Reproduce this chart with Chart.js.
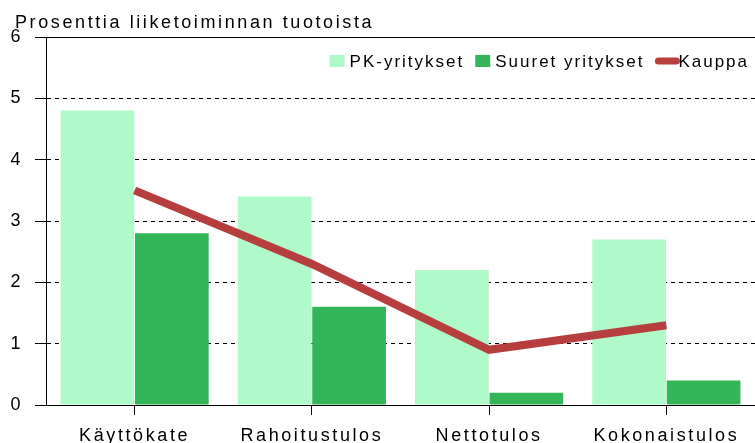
<!DOCTYPE html>
<html>
<head>
<meta charset="utf-8">
<script src="https://cdn.jsdelivr.net/npm/chart.js@4.4.1/dist/chart.umd.min.js"></script>
<style>
    html, body {
        margin: 0;
        padding: 0;
        background: #ffffff;
    }
    #wrap {
        width: 755px;
        height: 443px;
        position: relative;
    }
</style>
</head>
<body>
<div id="wrap"><canvas id="chart"></canvas></div>
<script>
const categories = ['Käyttökate', 'Rahoitustulos', 'Nettotulos', 'Kokonaistulos'];
const pkValues = [4.8, 3.4, 2.2, 2.7];
const suuretValues = [2.8, 1.6, 0.2, 0.4];
const kauppaValues = [3.5, 2.3, 0.9, 1.3];
const yTicks = [0, 1, 2, 3, 4, 5, 6];
const titleText = 'Prosenttia liiketoiminnan tuotoista';

const fontFamily = "'Liberation Sans', Arial, sans-serif";
const axisSpacing = '2.6px';

// the original raster font is spaced out, canvas letterSpacing gets close
const spacingPlugin = {
    id: 'spacing',
    beforeUpdate(chart) {
        chart.ctx.letterSpacing = axisSpacing;
    },
    beforeDraw(chart) {
        chart.ctx.letterSpacing = axisSpacing;
    }
};

// title at the top left, above the chart area
const titlePlugin = {
    id: 'leftTitle',
    afterDraw(chart) {
        const c = chart.ctx;
        c.save();
        c.letterSpacing = '2.6px';
        c.font = '18px ' + fontFamily;
        c.fillStyle = '#000000';
        c.textBaseline = 'alphabetic';
        c.textAlign = 'left';
        c.fillText(titleText, 15, 28);
        c.restore();
    }
};

// legend inside the chart area, right aligned under the top line
const legendPlugin = {
    id: 'innerLegend',
    afterDraw(chart) {
        const c = chart.ctx;
        const area = chart.chartArea;
        const items = chart.data.datasets.map(ds => ({
            text: ds.label,
            color: ds.type === 'line' ? ds.borderColor : ds.backgroundColor,
            isLine: ds.type === 'line'
        }));
        c.save();
        c.letterSpacing = '2px';
        c.font = '17px ' + fontFamily;
        c.textBaseline = 'alphabetic';
        c.textAlign = 'left';

        const boxW = 15;
        const lineW = 24;
        const gapText = 5;
        const gapItem = 11;
        let widths = items.map(it => (it.isLine ? lineW - 1 : boxW + gapText) + c.measureText(it.text).width);
        let total = widths.reduce((a, b) => a + b, 0) + gapItem * (items.length - 1);
        let x = area.right - 6 - total;
        const baseline = area.top + 30;
        const mid = baseline - 6;

        items.forEach((it, i) => {
            c.fillStyle = it.color;
            if (it.isLine) {
                c.strokeStyle = it.color;
                c.lineWidth = 7;
                c.lineCap = 'round';
                c.beginPath();
                c.moveTo(x + 3, mid);
                c.lineTo(x + lineW - 3, mid);
                c.stroke();
                c.fillStyle = '#000000';
                c.fillText(it.text, x + lineW - 1, baseline);
            } else {
                c.fillRect(x, mid - 6, boxW, 12);
                c.fillStyle = '#000000';
                c.fillText(it.text, x + boxW + gapText, baseline);
            }
            x += widths[i] + gapItem;
        });
        c.restore();
    }
};

const ctx = document.getElementById('chart').getContext('2d');

new Chart(ctx, {
    type: 'bar',
    data: {
        labels: categories,
        datasets: [
            {
                label: 'PK-yritykset',
                data: pkValues,
                backgroundColor: '#b0f9c8',
                order: 1
            },
            {
                label: 'Suuret yritykset',
                data: suuretValues,
                backgroundColor: '#33b55a',
                order: 1
            },
            {
                type: 'line',
                label: 'Kauppa',
                data: kauppaValues,
                borderColor: '#b73e3e',
                backgroundColor: '#b73e3e',
                borderWidth: 8,
                pointRadius: 0,
                tension: 0,
                order: 0
            }
        ]
    },
    options: {
        responsive: true,
        maintainAspectRatio: false,
        animation: false,
        datasets: {
            bar: {
                categoryPercentage: 0.84,
                barPercentage: 0.99
            }
        },
        layout: {
            padding: {left: 0, right: 0, top: 37, bottom: 0}
        },
        plugins: {
            title: {display: false},
            legend: {display: false},
            tooltip: {enabled: false}
        },
        scales: {
            x: {
                offset: true,
                afterFit(scale) {
                    scale.height = 38;
                },
                grid: {
                    offset: false,
                    drawOnChartArea: false,
                    drawTicks: true,
                    tickLength: 10,
                    color: '#000000'
                },
                border: {color: '#000000', width: 1},
                ticks: {
                    color: '#000000',
                    padding: 10,
                    maxRotation: 0,
                    font: {family: fontFamily, size: 18}
                }
            },
            y: {
                min: 0,
                max: 6,
                afterFit(scale) {
                    scale.width = 46;
                },
                afterBuildTicks(scale) {
                    scale.ticks = yTicks.map(v => ({value: v}));
                },
                grid: {
                    color: '#000000',
                    tickLength: 11,
                    lineWidth: 1
                },
                border: {
                    color: '#000000',
                    width: 1,
                    dash: c => (c.tick && c.tick.value > 0 && c.tick.value < 6) ? [4, 4] : []
                },
                ticks: {
                    color: '#000000',
                    padding: 12,
                    font: {family: fontFamily, size: 18}
                }
            }
        }
    },
    plugins: [spacingPlugin, titlePlugin, legendPlugin]
});
</script>
</body>
</html>
